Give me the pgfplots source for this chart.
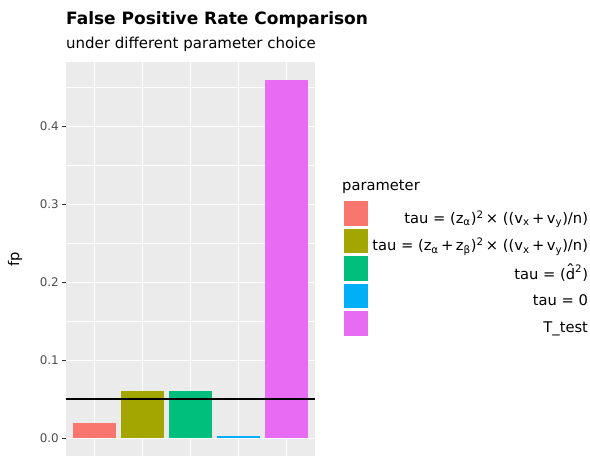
\documentclass[border=0pt]{standalone}
\usepackage{fontspec}
\setmainfont{DejaVu Sans}
\usepackage{graphicx}
\usepackage{pgfplots}
\pgfplotsset{compat=1.18}
\definecolor{c1}{HTML}{F8766D}
\definecolor{c2}{HTML}{A3A500}
\definecolor{c3}{HTML}{00BF7D}
\definecolor{c4}{HTML}{00B0F6}
\definecolor{c5}{HTML}{E76BF3}
\definecolor{panel}{HTML}{EBEBEB}
\definecolor{gray30}{HTML}{4D4D4D}
\definecolor{gray20}{HTML}{333333}
\newcommand{\dhat}{\ooalign{d\cr\hidewidth\raisebox{0.22em}{\scalebox{1.25}[1]{ˆ}}\hidewidth\cr}}
\pgfplotsset{sqlegend/.style={legend image code/.code={\fill[##1] (0pt,-7.75pt) rectangle (24.5pt,16.75pt);}}}
\begin{document}
\begin{tikzpicture}
\useasboundingbox (0,0) rectangle (590pt,456pt);
\node[anchor=base west, inner sep=0pt, font=\bfseries\fontsize{17}{20}\selectfont] at (66pt,431pt) {False Positive Rate Comparison};
\node[anchor=base west, inner sep=0pt, font=\fontsize{15}{17}\selectfont] at (66pt,407pt) {under different parameter choice};
\node[anchor=base west, inner sep=0pt, font=\fontsize{14.7}{16}\selectfont] at (342pt,265pt) {parameter};
\begin{axis}[
  at={(66pt,0pt)}, anchor=south west,
  scale only axis, width=249pt, height=394pt,
  xmin=0.4, xmax=5.6, ymin=-0.023, ymax=0.483,
  axis background/.style={fill=panel},
  axis line style={draw=none},
  xtick={1,2,3,4,5}, xticklabels={},
  x tick style={draw=none},
  ytick={0,0.1,0.2,0.3,0.4},
  minor ytick={0.05,0.15,0.25,0.35,0.45},
  minor tick length=0pt,
  ytick pos=left,
  yticklabel style={/pgf/number format/fixed, /pgf/number format/fixed zerofill, /pgf/number format/precision=1, font=\fontsize{11.9}{12}\selectfont, text=gray30},
  /pgf/number format/assume math mode=true,
  y tick style={draw=gray20, line width=0.7pt},
  tick align=outside, major tick length=3.7pt,
  xmajorgrids, ymajorgrids, yminorgrids,
  major grid style={white, line width=1.07pt},
  minor grid style={white, line width=0.53pt},
  ylabel={fp},
  ylabel style={at={(axis description cs:-0.2048,0.5)}, anchor=center, font=\fontsize{14.7}{16}\selectfont},
  legend cell align=right,
  legend style={at={(axis description cs:2.0964,0.6472)}, anchor=north east, draw=none, fill=none,
    inner sep=0pt, outer sep=0pt, row sep=3pt, column sep=4pt,
    nodes={inner sep=0pt, font=\fontsize{14.7}{16}\selectfont}},
  ybar, bar width=0.9, bar shift=0pt,
]
\addplot[ybar, fill=c1, draw=none, sqlegend] coordinates {(1,0.02)};
\addlegendentry{tau = (z\textsubscript{α})\textsuperscript{2}\,× ((v\textsubscript{x}\,+\,v\textsubscript{y})/n)}
\addplot[ybar, fill=c2, draw=none, sqlegend] coordinates {(2,0.06)};
\addlegendentry{tau = (z\textsubscript{α}\,+\,z\textsubscript{β})\textsuperscript{2}\,× ((v\textsubscript{x}\,+\,v\textsubscript{y})/n)}
\addplot[ybar, fill=c3, draw=none, sqlegend] coordinates {(3,0.06)};
\addlegendentry{tau = (\dhat\textsuperscript{\raisebox{0.15em}{2}})}
\addplot[ybar, fill=c4, draw=none, sqlegend] coordinates {(4,0.003)};
\addlegendentry{tau = 0}
\addplot[ybar, fill=c5, draw=none, sqlegend] coordinates {(5,0.46)};
\addlegendentry{T\_test}
\addplot[black, line width=1.4pt, forget plot, sharp plot] coordinates {(0.4,0.05) (5.6,0.05)};
\end{axis}
\end{tikzpicture}
\end{document}
